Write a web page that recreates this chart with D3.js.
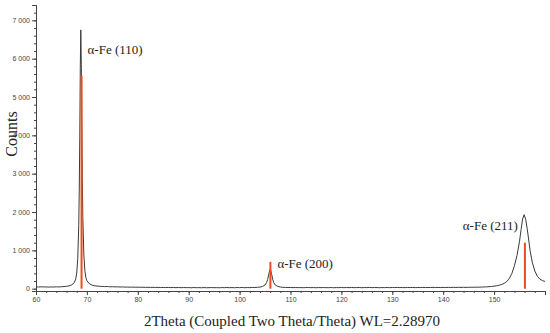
<!doctype html>
<html lang="en">
  <head>
    <meta charset="utf-8">
    <title>XRD pattern</title>
    <script src="https://d3js.org/d3.v7.min.js"></script>
    <style>
      body { margin: 0; background: #fff; }
      .tick text { font-family: "Liberation Sans", Arial, sans-serif; font-size: 7px; fill: #444; }
      .axis path, .axis line { stroke: #444; }
    </style>
  </head>
  <body>
    <div class="chart"></div>
    <script type="text/javascript">
    // measured pattern (2theta in degrees, intensity in counts)
    var twoTheta = [
      60.0, 60.5, 61.0, 61.5, 62.0, 62.5, 63.0, 63.5, 64.0, 64.5, 65.0, 65.5, 66.0, 66.5, 67.0, 67.5,
      67.8, 68.0, 68.2, 68.4, 68.5, 68.6, 68.7, 68.8, 68.9, 69.0, 69.1, 69.2, 69.4, 69.6, 69.8, 70.0,
      70.5, 71.0, 71.5, 72.0, 72.5, 73.0, 73.5, 74.0, 74.5, 75.0, 75.5, 76.0, 76.5, 77.0, 77.5, 78.0,
      78.5, 79.0, 79.5, 80.0, 80.5, 81.0, 81.5, 82.0, 82.5, 83.0, 83.5, 84.0, 84.5, 85.0, 85.5, 86.0,
      86.5, 87.0, 87.5, 88.0, 88.5, 89.0, 89.5, 90.0, 90.5, 91.0, 91.5, 92.0, 92.5, 93.0, 93.5, 94.0,
      94.5, 95.0, 95.5, 96.0, 96.5, 97.0, 97.5, 98.0, 98.5, 99.0, 99.5, 100.0, 100.5, 101.0, 101.5, 102.0,
      102.5, 103.0, 103.5, 104.0, 104.5, 105.0, 105.3, 105.5, 105.7, 105.9, 106.0, 106.1, 106.3, 106.5, 106.7, 107.0,
      107.5, 108.0, 108.5, 109.0, 109.5, 110.0, 110.5, 111.0, 111.5, 112.0, 112.5, 113.0, 113.5, 114.0, 114.5, 115.0,
      115.5, 116.0, 116.5, 117.0, 117.5, 118.0, 118.5, 119.0, 119.5, 120.0, 120.5, 121.0, 121.5, 122.0, 122.5, 123.0,
      123.5, 124.0, 124.5, 125.0, 125.5, 126.0, 126.5, 127.0, 127.5, 128.0, 128.5, 129.0, 129.5, 130.0, 130.5, 131.0,
      131.5, 132.0, 132.5, 133.0, 133.5, 134.0, 134.5, 135.0, 135.5, 136.0, 136.5, 137.0, 137.5, 138.0, 138.5, 139.0,
      139.5, 140.0, 140.5, 141.0, 141.5, 142.0, 142.5, 143.0, 143.5, 144.0, 144.5, 145.0, 145.5, 146.0, 146.5, 147.0,
      147.5, 148.0, 148.5, 149.0, 149.5, 150.0, 150.5, 151.0, 151.5, 152.0, 152.5, 153.0, 153.5, 154.0, 154.5, 155.0,
      155.3, 155.6, 155.9, 156.2, 156.5, 156.8, 157.1, 157.5, 158.0, 158.5, 159.0, 159.5, 160.0
    ];
    var counts = [
      48, 44, 50, 45, 47, 41, 46, 43, 49, 45, 52, 55, 62, 74, 98, 155,
      250, 410, 780, 1650, 2550, 3950, 5750, 6750, 5850, 4250, 2850, 1850, 880, 470, 290, 205,
      128, 95, 78, 68, 62, 58, 54, 57, 50, 52, 47, 49, 44, 46, 41, 43,
      39, 42, 37, 40, 36, 39, 34, 37, 33, 36, 31, 35, 30, 33, 29, 34,
      28, 32, 27, 31, 26, 30, 27, 29, 25, 30, 26, 28, 24, 29, 25, 27,
      30, 26, 28, 24, 29, 27, 31, 26, 29, 25, 30, 27, 31, 26, 30, 28,
      33, 31, 36, 42, 58, 98, 158, 238, 355, 475, 510, 488, 375, 248, 160, 98,
      60, 44, 36, 33, 30, 32, 28, 31, 27, 30, 26, 29, 31, 27, 30, 25,
      29, 27, 31, 26, 28, 30, 25, 29, 27, 31, 26, 30, 28, 32, 27, 29,
      31, 26, 30, 28, 33, 27, 31, 29, 26, 30, 28, 32, 27, 31, 29, 33,
      28, 31, 27, 32, 29, 33, 28, 31, 30, 34, 29, 32, 30, 35, 31, 33,
      30, 34, 31, 35, 32, 36, 33, 35, 34, 37, 34, 36, 38, 37, 40, 39,
      43, 45, 48, 53, 58, 66, 76, 90, 110, 140, 190, 270, 400, 600, 870, 1240,
      1540, 1820, 1930, 1810, 1570, 1270, 970, 690, 460, 325, 250, 210, 190
    ];

    // reference reflections (alpha-Fe)
    var peakNames = ["\u03b1-Fe (110)", "\u03b1-Fe (200)", "\u03b1-Fe (211)"];
    var peakPos = [68.95, 106.05, 156.05];
    var peakRef = [5560, 700, 1200];
    var peakTop = [6750, 510, 1930];

    var xTicks = [60, 70, 80, 90, 100, 110, 120, 130, 140, 150];
    var yTicks = [0, 1000, 2000, 3000, 4000, 5000, 6000, 7000];

    var W = 550, H = 333;
    var margin = {top: 5, right: 5, bottom: 42, left: 36};

    const svg = d3.select(".chart")
        .append("svg")
        .attr("width", W)
        .attr("height", H);

    const x = d3.scaleLinear()
        .domain([60, 160])
        .range([margin.left, W - margin.right]);

    const y = d3.scaleLinear()
        .domain([-60, 7400])
        .range([H - margin.bottom, margin.top]);

    var fmt = d => d3.format(",")(d).replace(",", " ");

    // minor ticks first, then major ones on top
    svg.append("g")
        .attr("class", "axis")
        .attr("transform", "translate(0," + (H - margin.bottom) + ")")
        .call(d3.axisBottom(x).tickValues(d3.range(60, 161, 2)).tickSize(2).tickFormat(""));

    svg.append("g")
        .attr("class", "axis")
        .attr("transform", "translate(0," + (H - margin.bottom) + ")")
        .call(d3.axisBottom(x).tickValues(xTicks).tickSize(4).tickPadding(2));

    svg.append("g")
        .attr("class", "axis")
        .attr("transform", "translate(" + margin.left + ",0)")
        .call(d3.axisLeft(y).tickValues(d3.range(0, 7401, 200)).tickSize(2).tickFormat(""));

    svg.append("g")
        .attr("class", "axis")
        .attr("transform", "translate(" + margin.left + ",0)")
        .call(d3.axisLeft(y).tickValues(yTicks).tickSize(4).tickPadding(2).tickFormat(fmt));

    // diffraction pattern
    var data = twoTheta.map((t, i) => ({t: t, c: counts[i]}));

    svg.append("path")
        .datum(data)
        .attr("fill", "none")
        .attr("stroke", "#3a3a3a")
        .attr("stroke-width", 1)
        .attr("d", d3.line().x(d => x(d.t)).y(d => y(d.c)));

    // reference sticks
    svg.append("g")
        .selectAll("line")
        .data(peakPos)
        .enter()
        .append("line")
        .attr("x1", d => x(d))
        .attr("x2", d => x(d))
        .attr("y1", y(0))
        .attr("y2", (d, i) => y(peakRef[i]))
        .attr("stroke", "#ee4a1c")
        .attr("stroke-width", 2);

    // peak labels
    var labelDx = [6, 7, -7],
        labelDy = [24, 6, 15],
        labelAnchor = ["start", "start", "end"];

    svg.append("g")
        .style("font", "13px 'Liberation Serif', 'Times New Roman', serif")
        .attr("fill", "#222")
        .selectAll("text")
        .data(peakNames)
        .enter()
        .append("text")
        .attr("x", (d, i) => x(peakPos[i]) + labelDx[i])
        .attr("y", (d, i) => y(Math.max(peakTop[i], peakRef[i])) + labelDy[i])
        .attr("text-anchor", (d, i) => labelAnchor[i])
        .text(d => d);

    // axis titles
    svg.append("text")
        .attr("transform", "translate(17,134) rotate(-90)")
        .attr("text-anchor", "middle")
        .style("font", "16px 'Liberation Serif', 'Times New Roman', serif")
        .attr("fill", "#222")
        .text("Counts");

    svg.append("text")
        .attr("x", 292)
        .attr("y", 326)
        .attr("text-anchor", "middle")
        .style("font", "15px 'Liberation Serif', 'Times New Roman', serif")
        .attr("fill", "#222")
        .text("2Theta (Coupled Two Theta/Theta) WL=2.28970");
    </script>
  </body>
</html>
